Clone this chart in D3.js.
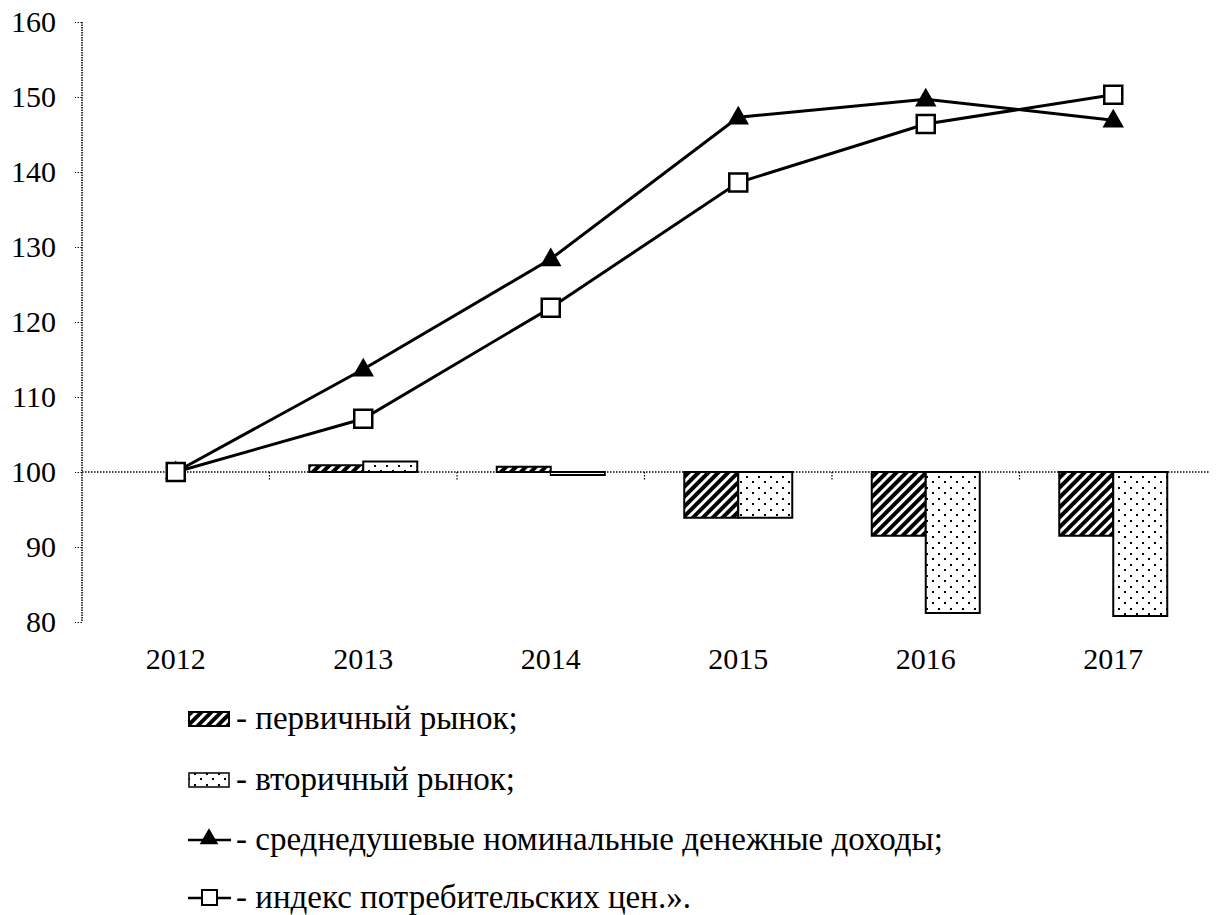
<!DOCTYPE html>
<html>
<head>
<meta charset="utf-8">
<script src="https://cdn.jsdelivr.net/npm/d3@7"></script>
</head>
<body style="margin:0">
<script>
// years on the category axis
var years = ['2012', '2013', '2014', '2015', '2016', '2017'];
// bar series (drawn from 100)
var primaryMarket = [null, 100.9, 100.7, 93.9, 91.5, 91.5];
var secondaryMarket = [null, 101.4, 99.6, 93.9, 81.2, 80.8];
// line series
var incomes = [100, 113.7, 128.4, 147.3, 149.7, 146.9];
var cpi = [100, 107.1, 121.9, 138.6, 146.4, 150.3];
var yTicks = [80, 90, 100, 110, 120, 130, 140, 150, 160];
var legendLabels = [
  '- первичный рынок;',
  '- вторичный рынок;',
  '- среднедушевые номинальные денежные доходы;',
  '- индекс потребительских цен.».'
];

var width = 1221, height = 915;
var plotLeft = 82, plotRight = 1207, plotTop = 22, plotBottom = 622;
var serif = '"Liberation Serif", serif';

var svg = d3.select('body').append('svg')
    .attr('width', width)
    .attr('height', height)
    .style('font-family', serif);

var defs = svg.append('defs');

// diagonal hatch for the primary market
var hatch = defs.append('pattern')
    .attr('id', 'hatch')
    .attr('patternUnits', 'userSpaceOnUse')
    .attr('width', 7).attr('height', 7)
    .attr('patternTransform', 'rotate(45)');
hatch.append('rect').attr('width', 7).attr('height', 7).attr('fill', '#000');
hatch.append('rect').attr('x', 4).attr('width', 3).attr('height', 7).attr('fill', '#fff');

// sparse dots for the secondary market
var dots = defs.append('pattern')
    .attr('id', 'dots')
    .attr('patternUnits', 'userSpaceOnUse')
    .attr('width', 12).attr('height', 11);
dots.append('rect').attr('width', 12).attr('height', 11).attr('fill', '#fff');
dots.append('rect').attr('x', 2).attr('y', 3).attr('width', 2).attr('height', 2).attr('fill', '#000');
dots.append('rect').attr('x', 8).attr('y', 8).attr('width', 2).attr('height', 2).attr('fill', '#000');

var x = d3.scaleBand().domain(years).range([plotLeft, plotRight]);
var y = d3.scaleLinear().domain([80, 160]).range([plotBottom, plotTop]);

var barW = 54;
var x1 = d3.scaleBand().domain(['p', 's'])
    .range([(x.bandwidth() - 2 * barW) / 2, (x.bandwidth() + 2 * barW) / 2]);

// y axis
var yAxis = svg.append('g')
    .attr('transform', 'translate(' + plotLeft + ',0)')
    .call(d3.axisLeft(y).tickValues(yTicks).tickSize(7).tickPadding(19));
yAxis.attr('font-family', null).style('font-family', serif);
yAxis.select('.domain')
    .attr('d', 'M0,' + plotTop + 'V' + plotBottom)
    .attr('stroke-width', 1.5)
    .attr('stroke-dasharray', '1.5,1');
yAxis.selectAll('.tick line')
    .attr('stroke-width', 1.2)
    .attr('stroke-dasharray', '1.5,1.5');
yAxis.selectAll('.tick text')
    .attr('font-size', 30)
    .attr('fill', '#000')
    .style('font-family', serif);

// bars
var barData = [];
years.forEach(function (yr, i) {
  if (primaryMarket[i] != null) barData.push({ year: yr, key: 'p', v: primaryMarket[i] });
  if (secondaryMarket[i] != null) barData.push({ year: yr, key: 's', v: secondaryMarket[i] });
});

svg.selectAll('rect.bar')
  .data(barData)
  .enter().append('rect')
    .attr('class', 'bar')
    .attr('x', function (d) { return x(d.year) + x1(d.key); })
    .attr('width', x1.bandwidth())
    .attr('y', function (d) { return Math.min(y(d.v), y(100)); })
    .attr('height', function (d) { return Math.abs(y(d.v) - y(100)); })
    .attr('fill', function (d) { return d.key === 'p' ? 'url(#hatch)' : 'url(#dots)'; })
    .attr('stroke', '#000')
    .attr('stroke-width', 2);

// horizontal axis crossing at 100
var xAxis = svg.append('g');
xAxis.append('line')
    .attr('x1', plotLeft).attr('x2', plotRight + 3)
    .attr('y1', y(100)).attr('y2', y(100))
    .attr('stroke', '#000')
    .attr('stroke-width', 1.5)
    .attr('stroke-dasharray', '1.5,1.5');
xAxis.selectAll('line.xt')
  .data(years.slice(1))
  .enter().append('line')
    .attr('class', 'xt')
    .attr('x1', function (d) { return x(d); })
    .attr('x2', function (d) { return x(d); })
    .attr('y1', y(100)).attr('y2', y(100) + 8)
    .attr('stroke', '#000')
    .attr('stroke-width', 1.2)
    .attr('stroke-dasharray', '1.5,1.5');

// category labels at the bottom
var xLabels = svg.append('g')
    .attr('transform', 'translate(0,' + plotBottom + ')')
    .call(d3.axisBottom(x).tickSize(0).tickPadding(26))
    .call(function (g) { g.select('.domain').remove(); });
xLabels.attr('font-family', null).style('font-family', serif);
xLabels.selectAll('text')
    .attr('font-size', 30)
    .attr('fill', '#000')
    .style('font-family', serif);

var cx = function (d, i) { return x(years[i]) + x.bandwidth() / 2; };
var line = d3.line().x(cx).y(function (d) { return y(d); });

svg.append('path').datum(incomes)
    .attr('d', line).attr('fill', 'none')
    .attr('stroke', '#000').attr('stroke-width', 3);
svg.append('path').datum(cpi)
    .attr('d', line).attr('fill', 'none')
    .attr('stroke', '#000').attr('stroke-width', 3);

var tri = d3.symbol().type(d3.symbolTriangle).size(200);

svg.selectAll('path.tri')
  .data(incomes)
  .enter().append('path')
    .attr('class', 'tri')
    .attr('d', tri)
    .attr('transform', function (d, i) { return 'translate(' + cx(d, i) + ',' + (y(d) + 1) + ')'; })
    .attr('fill', '#000');

svg.selectAll('rect.sq')
  .data(cpi)
  .enter().append('rect')
    .attr('class', 'sq')
    .attr('x', function (d, i) { return cx(d, i) - 9; })
    .attr('y', function (d) { return y(d) - 9; })
    .attr('width', 18).attr('height', 18)
    .attr('fill', '#fff')
    .attr('stroke', '#000')
    .attr('stroke-width', 2.5);

// legend
var legend = svg.append('g');
var rowY = [719, 780, 840, 898];
var lx = 188;

legend.append('rect')
    .attr('x', lx + 1).attr('y', rowY[0] - 7).attr('width', 40).attr('height', 14)
    .attr('fill', 'url(#hatch)').attr('stroke', '#000').attr('stroke-width', 2);
legend.append('rect')
    .attr('x', lx + 1).attr('y', rowY[1] - 7).attr('width', 40).attr('height', 14)
    .attr('fill', 'url(#dots)').attr('stroke', '#000').attr('stroke-width', 1.5);

legend.append('line')
    .attr('x1', lx).attr('x2', lx + 43).attr('y1', rowY[2]).attr('y2', rowY[2])
    .attr('stroke', '#000').attr('stroke-width', 2.5);
legend.append('path')
    .attr('d', d3.symbol().type(d3.symbolTriangle).size(150))
    .attr('transform', 'translate(' + (lx + 21) + ',' + (rowY[2] - 1) + ')')
    .attr('fill', '#000');

legend.append('line')
    .attr('x1', lx).attr('x2', lx + 43).attr('y1', rowY[3]).attr('y2', rowY[3])
    .attr('stroke', '#000').attr('stroke-width', 2.5);
legend.append('rect')
    .attr('x', lx + 14).attr('y', rowY[3] - 8).attr('width', 15).attr('height', 15)
    .attr('fill', '#fff').attr('stroke', '#000').attr('stroke-width', 2);

// legend labels sit directly on the svg
svg.selectAll('text.leg')
  .data(legendLabels)
  .enter().append('text')
    .attr('class', 'leg')
    .attr('x', lx + 48)
    .attr('y', function (d, i) { return rowY[i] + 10; })
    .attr('font-size', 33)
    .attr('fill', '#000')
    .style('font-family', serif)
    .text(function (d) { return d; });
</script>
</body>
</html>
